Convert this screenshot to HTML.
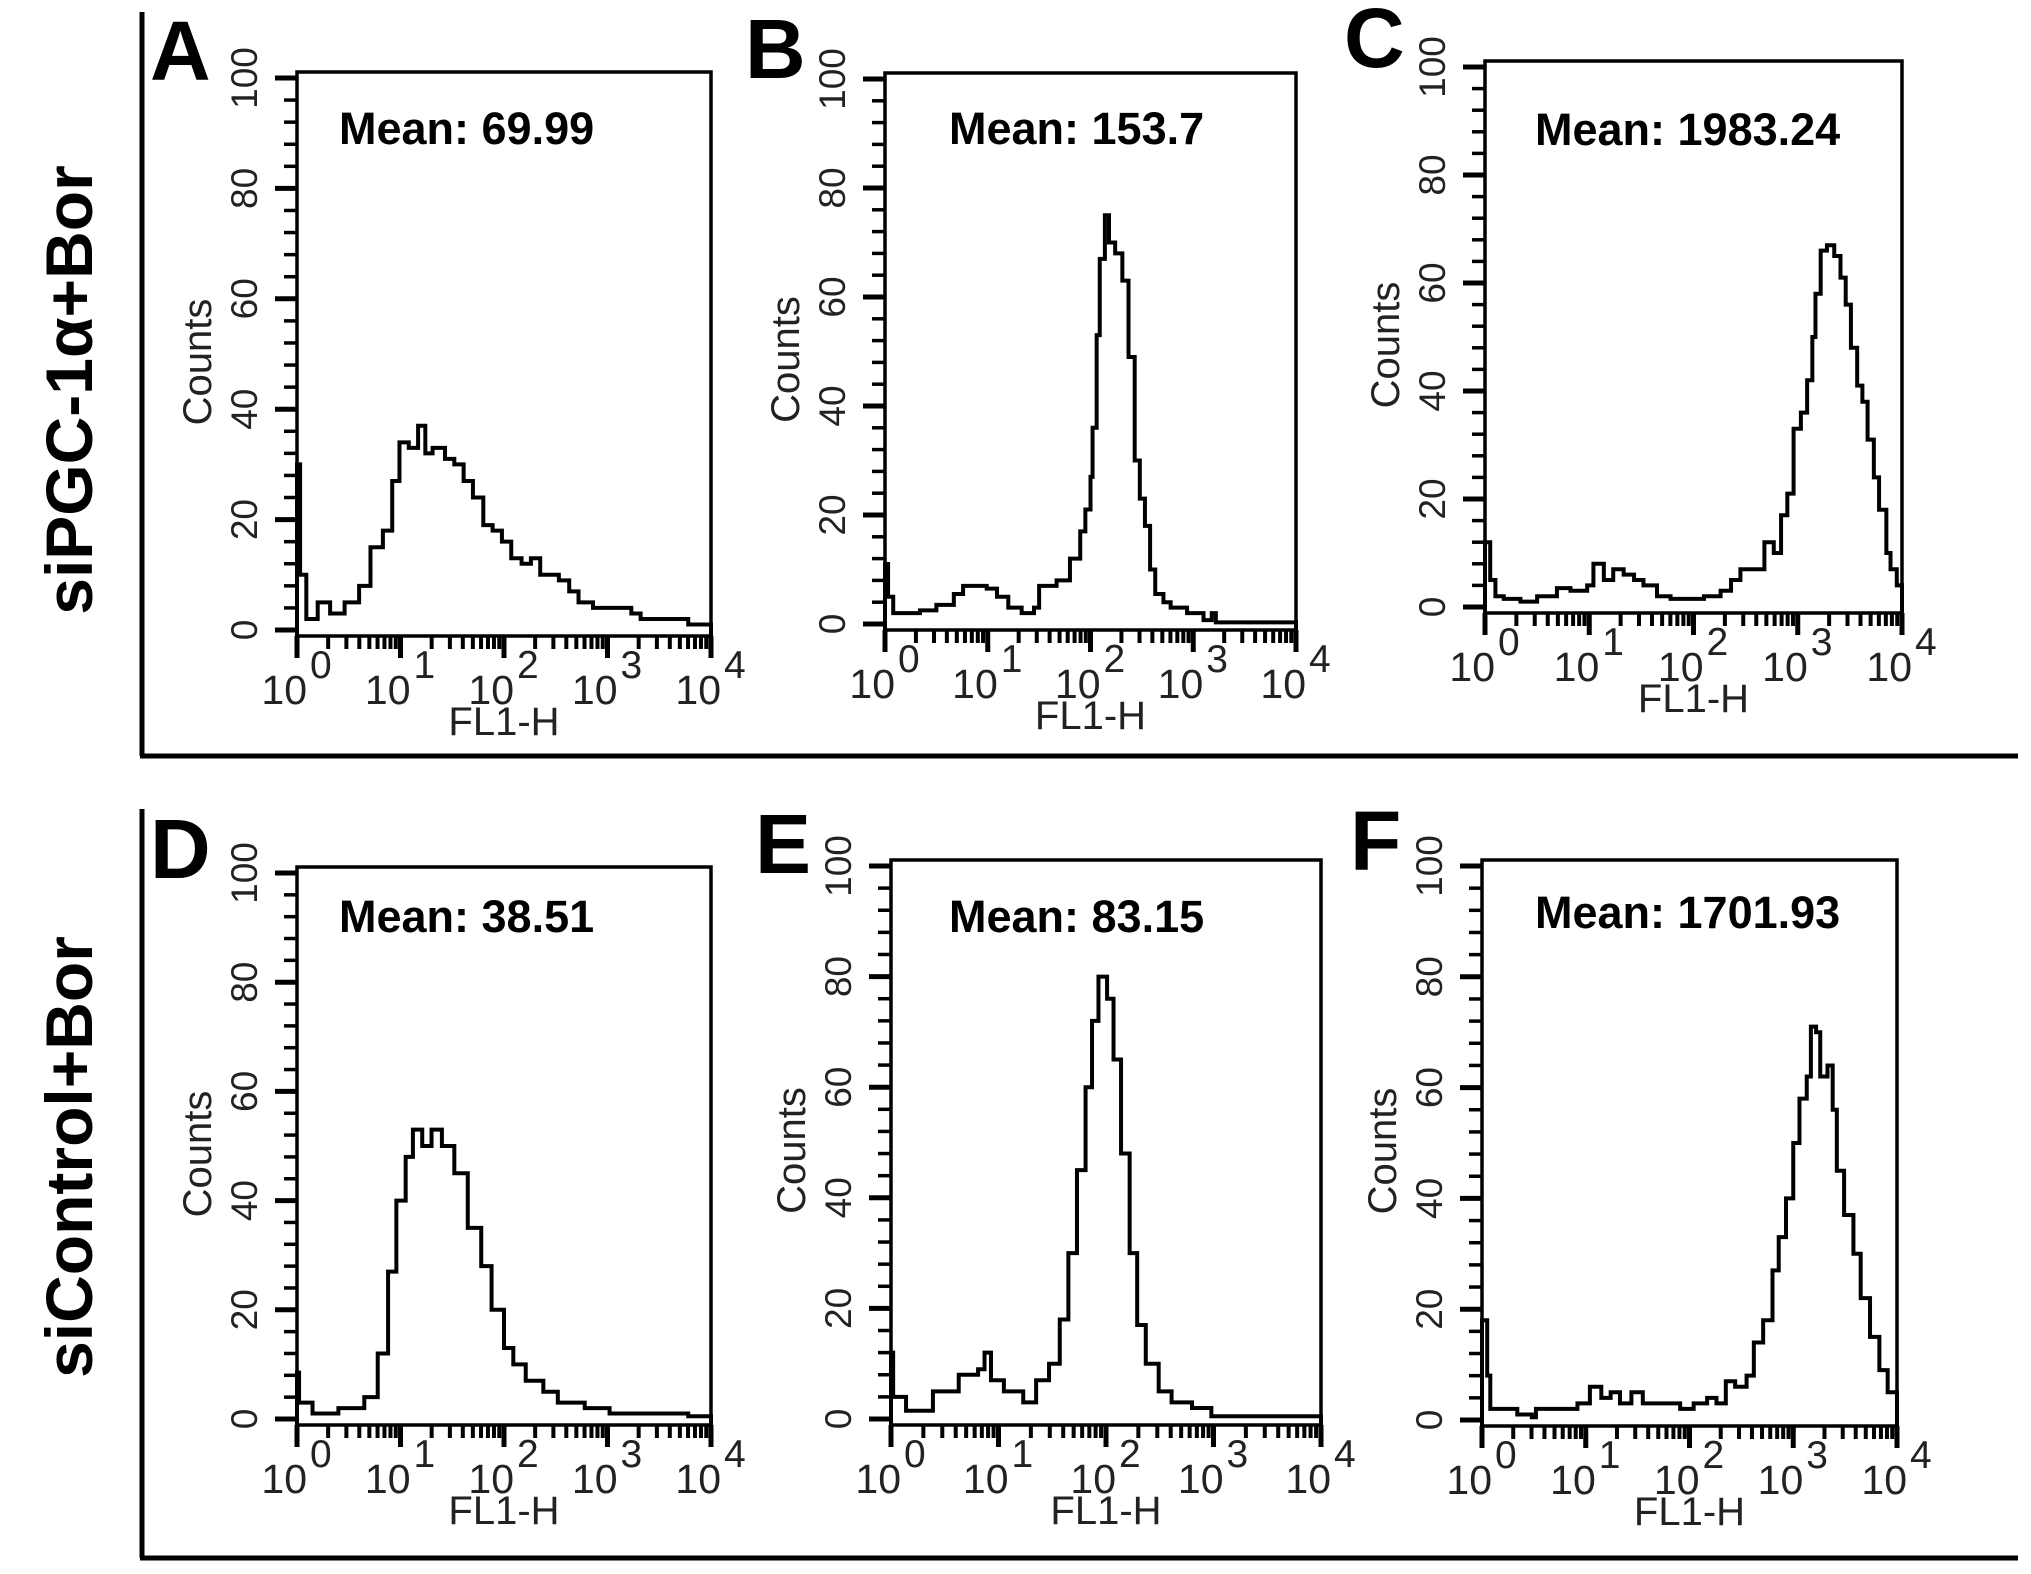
<!DOCTYPE html>
<html><head><meta charset="utf-8"><style>
html,body{margin:0;padding:0;background:#fff;}
svg{display:block;font-family:"Liberation Sans",Arial,sans-serif;}
</style></head><body>
<svg id="fig" width="2031" height="1574" viewBox="0 0 2031 1574" xmlns="http://www.w3.org/2000/svg">
<g>
<line x1="142" y1="12" x2="142" y2="756" stroke="#000" stroke-width="5"/>
<line x1="140" y1="756" x2="2018" y2="756" stroke="#000" stroke-width="5"/>
</g>
<g>
<line x1="142" y1="809" x2="142" y2="1558" stroke="#000" stroke-width="5"/>
<line x1="140" y1="1558" x2="2018" y2="1558" stroke="#000" stroke-width="5"/>
</g>
<text transform="translate(92,390) rotate(-90)" text-anchor="middle" font-size="66" font-weight="bold">siPGC-1α+Bor</text>
<text transform="translate(92,1157) rotate(-90)" text-anchor="middle" font-size="66" font-weight="bold">siControl+Bor</text>
<g id="panels"></g>
</svg>
<script>
// Panel A data (log10 FL1-H bin start, counts)
const logA = [0,0.03,0.09,0.2,0.32,0.46,0.6,0.71,0.83,0.92,0.99,1.08,1.17,1.24,1.31,1.43,1.52,1.61,1.7,1.8,1.89,1.98,2.07,2.17,2.26,2.35,2.44,2.53,2.63,2.72,2.86,3.0,3.13,3.23,3.32,3.46,3.59,3.69,3.78,3.92];
const countsA = [30,10,2,5,3,5,8,15,18,27,34,33,37,32,33,31,30,27,24,19,18,16,13,12,13,10,10,9,7,5,4,4,4,3,2,2,2,2,1,1];
// Panel B
const logB = [0,0.03,0.08,0.18,0.34,0.5,0.67,0.76,0.99,1.09,1.2,1.33,1.45,1.5,1.67,1.8,1.9,1.95,2.0,2.02,2.06,2.09,2.14,2.18,2.24,2.31,2.37,2.43,2.48,2.53,2.58,2.63,2.71,2.78,2.94,3.1,3.18,3.22];
const countsB = [11,5,2,2,2.5,3.5,5.5,7,6.5,5,3,2,3,7,8,12,17,21,27,36,53,67,75,70,68,63,49,30,23,18,10,5.5,4,3,2,0.7,2,0.3];
// Panel C
const logC = [0,0.05,0.1,0.18,0.34,0.5,0.69,0.82,0.98,1.04,1.14,1.23,1.33,1.43,1.52,1.65,1.78,1.94,2.1,2.26,2.36,2.45,2.58,2.68,2.77,2.84,2.9,2.96,3.03,3.09,3.14,3.17,3.22,3.28,3.35,3.41,3.46,3.51,3.57,3.62,3.67,3.73,3.78,3.85,3.89,3.95];
const countsC = [12,5,2,1.5,1,2,3.5,3,4,8,5,7,6,5,4,2,1.5,1.5,2,3,5,7,7,12,10,17,21,33,36,42,50,58,66,67,65,61,56,48,41,38,31,24,18,10,7,4];
// Panel D
const logD = [0,0.02,0.15,0.4,0.65,0.78,0.88,0.96,1.05,1.12,1.21,1.3,1.4,1.52,1.65,1.78,1.88,2.0,2.09,2.21,2.38,2.52,2.78,3.02,3.28,3.52,3.78];
const countsD = [8.5,3,1,2,4,12,27,40,48,53,50,53,50,45,35,28,20,13,10,7,5,3,2,1,1,1,0.5];
// Panel E
const logE = [0,0.02,0.14,0.39,0.63,0.81,0.87,0.93,1.05,1.23,1.35,1.47,1.57,1.65,1.73,1.81,1.87,1.93,2.01,2.07,2.14,2.22,2.29,2.37,2.49,2.61,2.8,2.98];
const countsE = [12,4,1.5,5,8,9,12,7,5,3,7,10,18,30,45,60,72,80,76,65,48,30,17,10,5,3,2,0.5];
// Panel F
const logF = [0,0.05,0.08,0.2,0.34,0.48,0.52,0.79,0.92,1.04,1.15,1.24,1.33,1.44,1.55,1.77,1.91,2.04,2.17,2.26,2.35,2.44,2.55,2.62,2.71,2.8,2.86,2.93,3.0,3.06,3.13,3.17,3.22,3.26,3.33,3.38,3.42,3.49,3.58,3.65,3.74,3.83,3.91];
const countsF = [18,8,2,2,1,0.5,2,2,3,6,4,5,3,5,3,3,2,3,4,3,7,6,8,14,18,27,33,40,50,58,62,71,70,62,64,56,45,37,30,22,15,9,5];
const yTicks = [0,20,40,60,80,100];
const xDecades = [0,1,2,3,4];
const meanLabels = ["Mean: 69.99","Mean: 153.7","Mean: 1983.24","Mean: 38.51","Mean: 83.15","Mean: 1701.93"];
const panelLetters = ["A","B","C","D","E","F"];

const NS = "http://www.w3.org/2000/svg";
const panelsG = document.getElementById("panels");
const layout = [
  {x0:297,x1:711,y100:78,y0:630,ax:636,mx:339,my:142,lx:150,ly:80},
  {x0:885,x1:1296,y100:79,y0:624,ax:630,mx:949,my:142,lx:745,ly:78},
  {x0:1485,x1:1902,y100:67,y0:607,ax:613,mx:1535,my:143,lx:1344,ly:67},
  {x0:297,x1:711,y100:873,y0:1419,ax:1425,mx:339,my:930,lx:150,ly:878},
  {x0:891,x1:1321,y100:866,y0:1419,ax:1425,mx:949,my:930,lx:755,ly:873},
  {x0:1482,x1:1897,y100:866,y0:1420,ax:1426,mx:1535,my:926,lx:1350,ly:870}
];
const logs = [logA,logB,logC,logD,logE,logF];
const counts = [countsA,countsB,countsC,countsD,countsE,countsF];

function mk(tag, attrs, parent){
  const e = document.createElementNS(NS, tag);
  for (const k in attrs) e.setAttribute(k, attrs[k]);
  parent.appendChild(e);
  return e;
}

layout.forEach((L, p) => {
  const g = mk("g", {}, panelsG);
  
  
  const xs = v => L.x0 + (L.x1 - L.x0) * v / 4;
  const ys = c => L.y0 - (L.y0 - L.y100) * c / 100;
  const boxTop = L.y100 - 6;
  const box = mk("rect", {x:L.x0, y:boxTop, width:L.x1-L.x0, height:L.ax-boxTop, fill:"none", stroke:"#000", "stroke-width":3.5}, g);
  
  
  for (let v = 0; v <= 100; v += 4) {
    const major = yTicks.indexOf(v) >= 0 || v === 100;
    const t = mk("line", {x1:L.x0 - (major ? 22 : 13), x2:L.x0, y1:ys(v), y2:ys(v), stroke:"#000", "stroke-width": major ? 5 : 3.5}, g);
    
    
  }
  yTicks.forEach(v => {
    const t = mk("text", {transform:`translate(${L.x0-40},${ys(v)}) rotate(-90)`, "text-anchor":"middle", "font-size":37, fill:"#222"}, g);
    t.textContent = v;
    
    
  });
  const yt = mk("text", {transform:`translate(${L.x0-86},${(L.y0+L.y100)/2+8}) rotate(-90)`, "text-anchor":"middle", "font-size":40, fill:"#222"}, g);
  yt.textContent = "Counts";
  
  
  xDecades.forEach(d => {
    const tk = mk("line", {x1:xs(d), x2:xs(d), y1:L.ax, y2:L.ax+22, stroke:"#000", "stroke-width":5}, g);
    
    
    if (d < 4) for (let m = 2; m <= 9; m++) {
      const mt = mk("line", {x1:xs(d+Math.log10(m)), x2:xs(d+Math.log10(m)), y1:L.ax, y2:L.ax+13, stroke:"#000", "stroke-width":4}, g);
      
      
    }
    const lb = mk("text", {x:xs(d)+10, y:L.ax+68, "text-anchor":"end", "font-size":41, fill:"#222"}, g);
    lb.textContent = "10";
    
    
    const sp = mk("text", {x:xs(d)+13, y:L.ax+42, "font-size":39, fill:"#222"}, g);
    sp.textContent = d;
    
    
  });
  const xt = mk("text", {x:(L.x0+L.x1)/2, y:L.ax+99, "text-anchor":"middle", "font-size":40, fill:"#222"}, g);
  xt.textContent = "FL1-H";
  
  
  const lx = logs[p], cy = counts[p];
  let d = `M${xs(lx[0])},${L.ax}`;
  for (let i = 0; i < lx.length; i++) {
    const xa = xs(lx[i]);
    const xb = i + 1 < lx.length ? xs(lx[i+1]) : L.x1;
    d += ` L${xa},${ys(cy[i])} L${xb},${ys(cy[i])}`;
  }
  d += ` L${L.x1},${L.ax}`;
  const path = mk("path", {d:d, fill:"none", stroke:"#000", "stroke-width":4, "stroke-linejoin":"miter"}, g);
  
  
  const ml = mk("text", {x:L.mx, y:L.my+2, "font-size":45, "font-weight":"bold"}, g);
  ml.textContent = meanLabels[p];
  
  
  const pl = mk("text", {x:L.lx, y:L.ly, "font-size":84, "font-weight":"bold"}, g);
  pl.textContent = panelLetters[p];
  
  
});
</script>
</body></html>
